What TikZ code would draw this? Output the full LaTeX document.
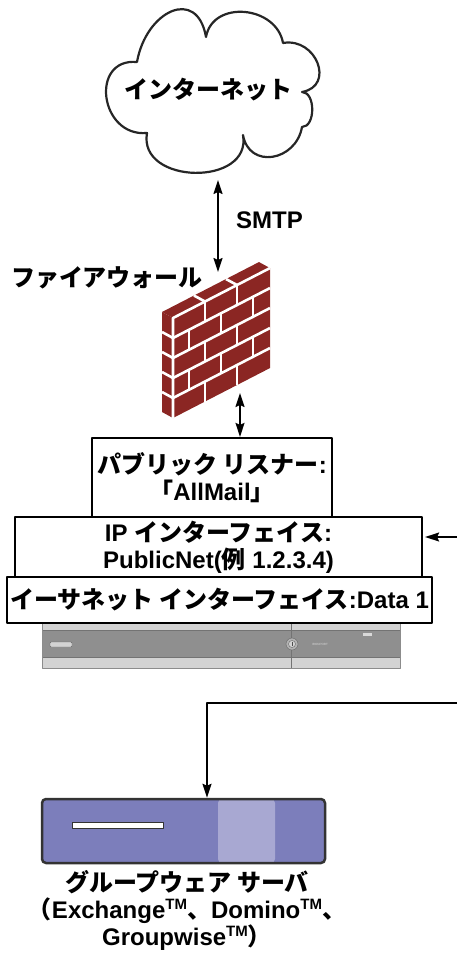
\documentclass[tikz,border=0pt]{standalone}
\usepackage{fontspec}
\setmainfont{Liberation Sans}
\newfontfamily\jp{Noto Sans CJK JP}
\usetikzlibrary{arrows.meta}

\newcommand{\jtxt}[1]{{\jp #1}}
\newcommand{\tm}{\raisebox{0.7ex}{\fontsize{15}{15}\selectfont TM}}

\definecolor{brick}{RGB}{139,38,35}
\definecolor{gwblue}{RGB}{124,126,187}
\definecolor{gwlight}{RGB}{168,168,210}
\definecolor{panel}{RGB}{211,211,211}
\definecolor{paneldark}{RGB}{143,143,143}

\tikzset{
  lbl/.style={font=\fontsize{24}{27}\selectfont\bfseries, align=center, inner sep=0pt},
  ifbox/.style={lbl, draw, line width=2.2pt, fill=white},
  mortar/.style={white, line width=2.6pt},
  link/.style={line width=1.6pt},
}

\begin{document}
\begin{tikzpicture}[x=1pt,y=1pt,line join=round,>={Stealth[length=14pt,width=9pt,inset=2pt]}]
\useasboundingbox (0,0) rectangle (457,-961);

% internet cloud
\draw[line width=2.2pt, draw=black!85] (206,-37) to[out=100,in=80,looseness=1.8] (137,-62)
  to[out=175,in=185,looseness=1.7] (147,-133)
  to[out=-100,in=-80,looseness=1.4] (243,-135)
  to[out=-80,in=-100,looseness=1.5] (302,-127)
  to[out=0,in=0,looseness=1.0] (302,-92)
  to[out=10,in=10,looseness=1.65] (283,-43)
  to[out=100,in=80,looseness=1.26] cycle;
\node[lbl] (inet) at (208,-90) {\jtxt{インターネット}};

\coordinate (smtpTop) at (218,-180);
\coordinate (smtpBot) at (218,-272);
\draw[link,<->] (smtpTop) -- (smtpBot);
\node[lbl, anchor=west] (smtp) at (236,-220) {SMTP};
\node[lbl] (fwlbl) at (107,-278) {\jtxt{ファイアウォール}};

% brick wall, front face in its own slanted frame
\begin{scope}[shift={(173,-318)},x={(1pt,0.515pt)},y={(0pt,1pt)}]
  \fill[brick] (0,0) -- (97,0) -- (86,11.665) -- (-11,11.665) -- cycle;
  \fill[brick] (0,0) -- (-11,11.665) -- (-11,-88.335) -- (0,-100) -- cycle;
  \fill[brick] (0,0) -- (97,0) -- (97,-100) -- (0,-100) -- cycle;
  \foreach \r in {1,...,4} {
    \draw[mortar] (-11,11.665-20*\r) -- (0,-20*\r) -- (97,-20*\r);
  }
  \draw[mortar] (0,-100) -- (0,0) -- (97,0);
  \foreach \u in {32,64} \draw[mortar] (\u,0) -- (\u-11,11.665);
  \foreach \r in {0,2,4} \foreach \u in {32,64}
    \draw[mortar] (\u,-20*\r) -- (\u,-20*\r-20);
  \foreach \r in {1,3} \foreach \u in {16,48,80}
    \draw[mortar] (\u,-20*\r) -- (\u,-20*\r-20);
\end{scope}

% appliance front panel
\fill[panel] (42,-600) rectangle (400,-668);
\fill[paneldark] (42,-630) rectangle (400,-657);
\draw[black!55, line width=0.8pt] (42,-630) -- (400,-630) (42,-657) -- (400,-657);
\draw[black!55, line width=1pt] (291,-600) -- (291,-668);
\draw[black!45, line width=1pt] (42,-600) rectangle (400,-668);
\draw[black!60, fill=panel, rounded corners=1pt] (50,-642) rectangle (72,-647);
\draw[black!60, fill=black!30] (292,-644) circle (6);
\draw[black!60, fill=panel] (292,-644) circle (3.5);
\draw[black!70] (292,-641.8) -- (292,-646.2);
\node[font=\fontsize{3}{3}\selectfont, text=black!15] (brand) at (320,-644) {IRONPORT};
\fill[black!15] (363,-633) rectangle (372,-635.5);

% listener / interface stack
\node[ifbox, minimum width=240pt, minimum height=79pt] (pub) at (212,-477.5)
  {\jtxt{パブリック リスナー}:\\\jtxt{「}AllMail\jtxt{」}};
\node[ifbox, minimum width=407pt, minimum height=60pt] (ipif) at (218.5,-547)
  {IP \jtxt{インターフェイス}:\\PublicNet(\jtxt{例} 1.2.3.4)};
\node[ifbox, minimum width=425pt, minimum height=46pt] (eth) at (219.5,-600)
  {\jtxt{イーサネット インターフェイス}:Data 1};

\coordinate (fwbot) at (240,-393);
\draw[link,<->] (fwbot) -- (fwbot |- pub.north);

\coordinate (netA) at (457,-537);
\draw[link,->, shorten >=2pt] (netA) -- (ipif.east |- netA);

% groupware server
\node[draw=black!80, line width=2.5pt, fill=gwblue, rounded corners=4pt,
  minimum width=283pt, minimum height=64pt,
  path picture={\fill[gwlight] ([xshift=176pt]path picture bounding box.south west)
    rectangle ([xshift=233pt]path picture bounding box.north west);}] (gw) at (183.5,-831) {};
\draw[black!80, fill=white, line width=1pt] (72,-822) rectangle (163,-828);

\coordinate (netB) at (457,-703);
\draw[link,->] (netB) -| ([xshift=23.5pt]gw.north);

\node[lbl] (gwlbl) at (187,-910) {\jtxt{グループウェア サーバ}\\
  \jtxt{（}Exchange\tm\jtxt{、}Domino\tm\jtxt{、}\\
  Groupwise\tm\jtxt{）}};
\end{tikzpicture}
\end{document}
